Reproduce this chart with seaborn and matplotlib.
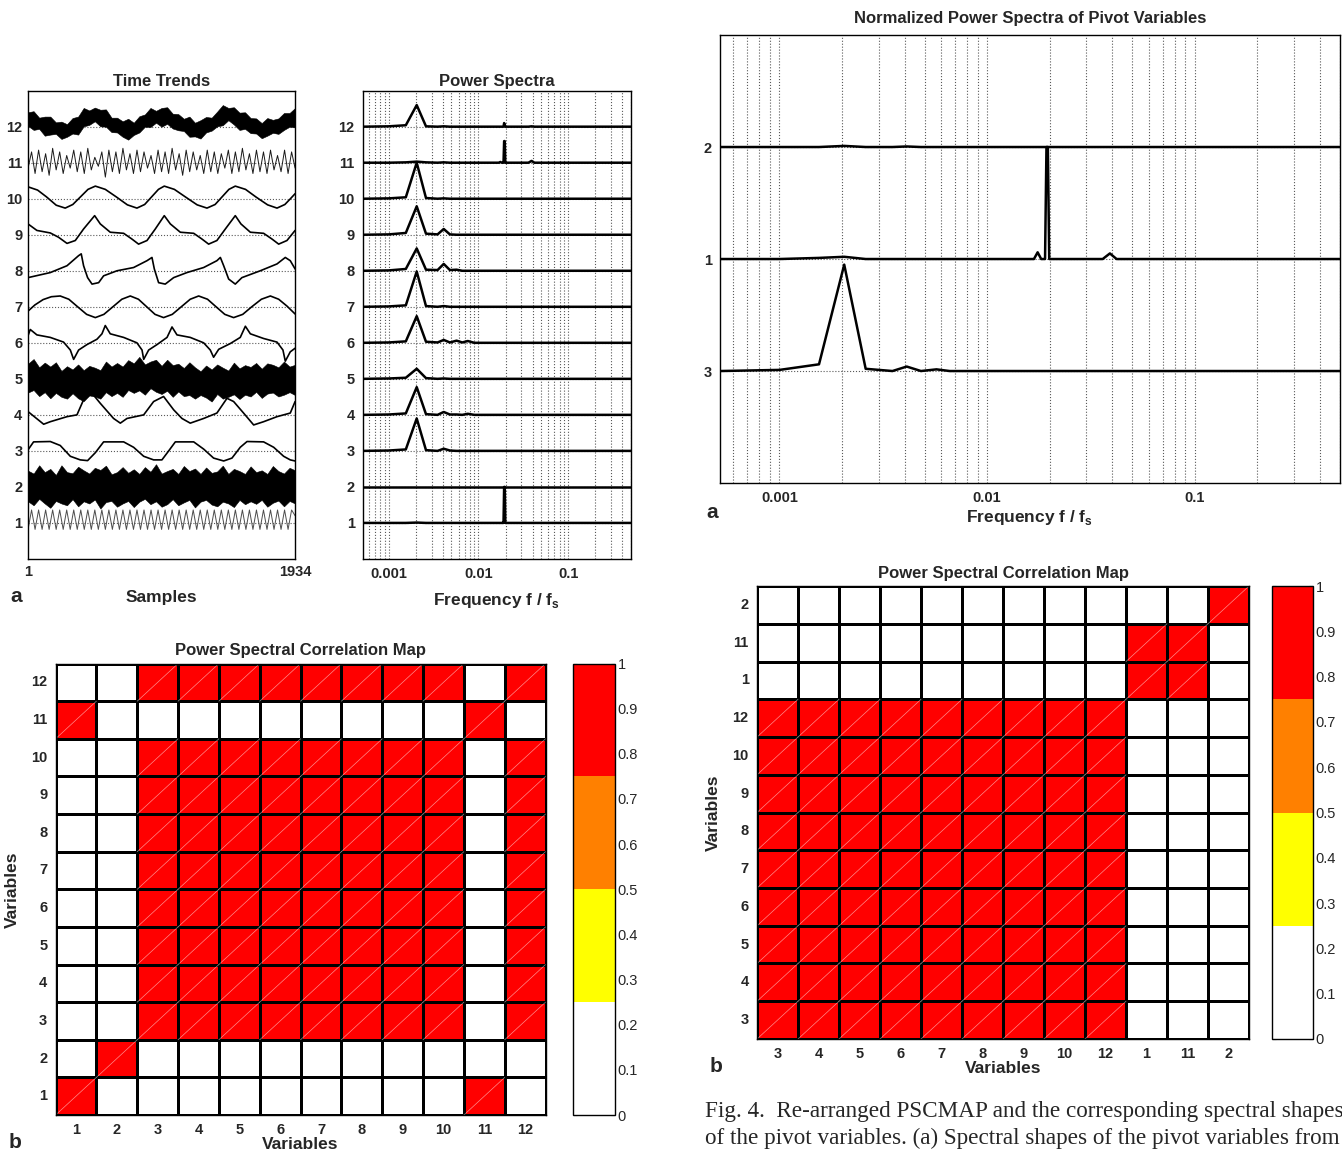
import numpy as np
import pandas as pd
import seaborn as sns
import matplotlib.pyplot as plt
from matplotlib.colors import ListedColormap
from matplotlib.ticker import LogLocator, NullFormatter

n_samples = 1934

# noisy traces: centre line and upper / lower spread, read every ~40 samples
trend12_center = [12.20, 12.15, 12.10, 12.04, 11.98, 11.94, 11.92, 11.93, 11.98, 12.08,
                  12.20, 12.28, 12.30, 12.28, 12.20, 12.10, 12.00, 11.94, 11.92, 11.95,
                  12.05, 12.15, 12.25, 12.30, 12.30, 12.25, 12.18, 12.10, 12.02, 11.97,
                  11.95, 11.95, 12.00, 12.10, 12.20, 12.30, 12.33, 12.30, 12.22, 12.12,
                  12.04, 11.98, 11.95, 11.95, 11.98, 12.05, 12.12, 12.18, 12.22]
noise12_up = [0.20, 0.28, 0.15, 0.24, 0.30, 0.18, 0.22, 0.14, 0.26, 0.20,
              0.32, 0.17, 0.23, 0.19, 0.28, 0.15, 0.25, 0.21, 0.30, 0.16,
              0.24, 0.19, 0.27, 0.14, 0.22, 0.29, 0.18, 0.25, 0.20, 0.31,
              0.16, 0.23, 0.27, 0.15, 0.22, 0.30, 0.19, 0.24, 0.17, 0.28,
              0.20, 0.25, 0.15, 0.29, 0.21, 0.18, 0.26, 0.20, 0.30]
noise12_dn = [0.18, 0.24, 0.16, 0.29, 0.20, 0.14, 0.26, 0.21, 0.17, 0.30,
              0.19, 0.23, 0.15, 0.27, 0.20, 0.25, 0.16, 0.22, 0.28, 0.18,
              0.21, 0.15, 0.26, 0.19, 0.30, 0.17, 0.23, 0.20, 0.14, 0.25,
              0.22, 0.28, 0.16, 0.21, 0.19, 0.26, 0.15, 0.24, 0.31, 0.18,
              0.22, 0.17, 0.27, 0.20, 0.15, 0.25, 0.21, 0.18, 0.24]
trend5_center = [5.00, 5.00, 4.99, 4.98, 4.96, 4.94, 4.92, 4.91, 4.90, 4.90,
                 4.90, 4.90, 4.91, 4.93, 4.95, 4.97, 4.99, 5.01, 5.03, 5.04,
                 5.05, 5.05, 5.05, 5.05, 5.04, 5.02, 5.00, 4.98, 4.96, 4.94,
                 4.92, 4.91, 4.90, 4.90, 4.90, 4.90, 4.90, 4.91, 4.92, 4.93,
                 4.94, 4.95, 4.96, 4.97, 4.97, 4.97, 4.97, 4.96, 4.95]
noise5_up = [0.42, 0.55, 0.33, 0.47, 0.38, 0.52, 0.30, 0.44, 0.36, 0.50,
             0.34, 0.46, 0.40, 0.31, 0.53, 0.37, 0.45, 0.33, 0.49, 0.39,
             0.56, 0.35, 0.43, 0.48, 0.32, 0.51, 0.38, 0.44, 0.34, 0.52,
             0.40, 0.30, 0.47, 0.36, 0.50, 0.41, 0.33, 0.54, 0.37, 0.45,
             0.39, 0.49, 0.32, 0.46, 0.42, 0.35, 0.51, 0.38, 0.44]
noise5_dn = [0.38, 0.31, 0.47, 0.35, 0.50, 0.33, 0.42, 0.46, 0.30, 0.44,
             0.52, 0.36, 0.40, 0.48, 0.32, 0.45, 0.38, 0.51, 0.34, 0.43,
             0.37, 0.49, 0.31, 0.41, 0.46, 0.35, 0.50, 0.33, 0.44, 0.39,
             0.47, 0.36, 0.42, 0.53, 0.32, 0.45, 0.40, 0.34, 0.48, 0.37,
             0.43, 0.31, 0.49, 0.38, 0.35, 0.46, 0.41, 0.33, 0.40]
trend2_center = [2.00, 2.01, 2.02, 2.01, 2.00, 1.99, 1.98, 1.99, 2.00, 2.01,
                 2.02, 2.02, 2.01, 2.00, 1.99, 1.98, 1.98, 1.99, 2.00, 2.01,
                 2.02, 2.02, 2.01, 2.00, 1.99, 1.98, 1.99, 2.00, 2.01, 2.02,
                 2.02, 2.01, 2.00, 1.99, 1.98, 1.98, 1.99, 2.00, 2.01, 2.02,
                 2.01, 2.00, 1.99, 1.98, 1.99, 2.00, 2.01, 2.01, 2.00]
noise2_up = [0.45, 0.36, 0.58, 0.40, 0.50, 0.34, 0.62, 0.42, 0.38, 0.55,
             0.44, 0.35, 0.52, 0.47, 0.60, 0.37, 0.43, 0.56, 0.39, 0.48,
             0.34, 0.53, 0.41, 0.63, 0.38, 0.46, 0.51, 0.36, 0.57, 0.42,
             0.49, 0.35, 0.54, 0.40, 0.45, 0.61, 0.37, 0.50, 0.43, 0.34,
             0.56, 0.41, 0.47, 0.38, 0.59, 0.44, 0.36, 0.52, 0.46]
noise2_dn = [0.40, 0.52, 0.35, 0.47, 0.58, 0.38, 0.44, 0.50, 0.34, 0.55,
             0.42, 0.48, 0.36, 0.60, 0.41, 0.37, 0.53, 0.45, 0.39, 0.57,
             0.43, 0.35, 0.49, 0.40, 0.54, 0.46, 0.33, 0.51, 0.44, 0.38,
             0.59, 0.42, 0.36, 0.48, 0.52, 0.39, 0.45, 0.56, 0.37, 0.50,
             0.41, 0.47, 0.35, 0.53, 0.43, 0.38, 0.55, 0.40, 0.46]

# fast oscillations (one value per half period)
trend11 = [10.85, 11.3, 10.7, 11.35, 10.75, 11.25, 10.65, 11.4, 10.8, 11.3,
           10.7, 11.2, 10.85, 11.35, 10.75, 11.3, 10.7, 11.4, 10.8, 11.15,
           10.9, 11.3, 10.6, 11.35, 10.75, 11.3, 10.7, 11.4, 10.8, 11.25,
           10.7, 11.35, 10.75, 11.3, 10.85, 11.2, 10.7, 11.35, 10.75, 11.3,
           10.7, 11.4, 10.8, 11.25, 10.65, 11.35, 10.75, 11.3, 10.8, 11.2,
           10.7, 11.35, 10.75, 11.3, 10.7, 11.25, 10.85, 11.35, 10.7, 11.3,
           10.75, 11.4, 10.8, 11.25, 10.7, 11.35, 10.75, 11.3, 10.7, 11.35,
           10.8, 11.2, 10.75, 11.35, 10.7, 11.3, 10.85]
trend1 = [0.82, 1.36, 0.82, 1.36, 0.82, 1.36, 0.82, 1.36, 0.82, 1.36,
          0.82, 1.36, 0.82, 1.36, 0.82, 1.36, 0.82, 1.36, 0.82, 1.36,
          0.82, 1.36, 0.82, 1.36, 0.82, 1.36, 0.82, 1.36, 0.82, 1.36,
          0.82, 1.36, 0.82, 1.36, 0.82, 1.36, 0.82, 1.36, 0.82, 1.36,
          0.82, 1.36, 0.82, 1.36, 0.82, 1.36, 0.82, 1.36, 0.82, 1.36,
          0.82, 1.36, 0.82, 1.36, 0.82, 1.36, 0.82, 1.36, 0.82, 1.36,
          0.82, 1.36, 0.82, 1.36, 0.82, 1.36, 0.82, 1.36, 0.82, 1.36,
          0.82, 1.36, 0.82, 1.36, 0.82, 1.36, 1.2]

# slower traces as (sample, value)
trend10 = [(1, 10.33), (70, 10.24), (135, 10.05), (205, 9.82), (270, 9.74), (325, 9.84),
           (380, 10.05), (435, 10.26), (488, 10.35), (560, 10.26), (640, 10.05), (720, 9.83),
           (789, 9.74), (845, 9.84), (895, 10.05), (945, 10.26), (987, 10.35), (1060, 10.26),
           (1140, 10.05), (1225, 9.83), (1296, 9.74), (1355, 9.84), (1405, 10.05), (1455, 10.26),
           (1501, 10.35), (1575, 10.26), (1650, 10.05), (1735, 9.83), (1803, 9.74), (1860, 9.84),
           (1900, 10.0), (1934, 10.14)]
trend9 = [(1, 9.30), (65, 9.12), (162, 9.05), (222, 8.93), (283, 8.76), (343, 8.84), (403, 9.16),
          (483, 9.53), (524, 9.30), (596, 9.07), (693, 9.04), (753, 8.88), (801, 8.74),
          (862, 8.84), (922, 9.16), (987, 9.53), (1031, 9.30), (1103, 9.07), (1200, 9.04),
          (1260, 8.88), (1308, 8.74), (1368, 8.84), (1429, 9.16), (1501, 9.53), (1542, 9.30),
          (1610, 9.07), (1706, 9.04), (1767, 8.88), (1815, 8.74), (1875, 8.84), (1934, 9.12)]
trend8 = [(1, 7.81), (162, 7.95), (283, 8.14), (367, 8.42), (386, 8.47), (403, 8.14), (432, 7.81),
          (464, 7.63), (512, 7.67), (548, 7.86), (645, 8.0), (765, 8.09), (862, 8.28),
          (898, 8.37), (915, 8.05), (946, 7.67), (994, 7.63), (1055, 7.81), (1151, 7.95),
          (1272, 8.09), (1368, 8.28), (1393, 8.37), (1417, 8.14), (1453, 7.77), (1501, 7.63),
          (1549, 7.81), (1682, 8.0), (1803, 8.19), (1863, 8.37), (1899, 8.28), (1934, 8.05)]
trend7 = [(1, 6.88), (50, 7.05), (110, 7.2), (170, 7.28), (234, 7.30), (296, 7.21), (360, 7.0),
          (425, 6.79), (488, 6.70), (550, 6.79), (615, 7.0), (680, 7.21), (741, 7.30),
          (800, 7.21), (860, 7.0), (920, 6.79), (982, 6.70), (1045, 6.79), (1110, 7.0),
          (1175, 7.21), (1236, 7.30), (1300, 7.21), (1362, 7.0), (1425, 6.79), (1489, 6.70),
          (1555, 6.79), (1620, 7.0), (1690, 7.21), (1755, 7.30), (1815, 7.21), (1875, 7.02),
          (1934, 6.80)]
trend6 = [(1, 6.2), (17, 6.37), (65, 6.22), (162, 6.15), (258, 6.02), (307, 5.8), (331, 5.54),
          (367, 5.8), (427, 5.95), (500, 6.1), (536, 6.25), (560, 6.48), (596, 6.25), (693, 6.15),
          (789, 6.0), (826, 5.8), (838, 5.54), (874, 5.8), (934, 5.95), (1007, 6.15),
          (1043, 6.44), (1079, 6.22), (1175, 6.15), (1272, 6.0), (1320, 5.8), (1344, 5.6),
          (1381, 5.82), (1465, 5.98), (1537, 6.15), (1574, 6.46), (1610, 6.25), (1706, 6.12),
          (1803, 6.02), (1846, 5.8), (1863, 5.49), (1899, 5.75), (1934, 5.85)]
trend4 = [(1, 4.09), (114, 3.74), (162, 3.81), (283, 3.95), (355, 4.0), (403, 4.42), (464, 4.6),
          (524, 4.32), (620, 3.9), (669, 3.77), (717, 3.9), (838, 4.0), (910, 4.37), (982, 4.51),
          (1055, 4.14), (1115, 3.9), (1175, 3.77), (1272, 3.9), (1368, 4.05), (1441, 4.46),
          (1489, 4.37), (1561, 4.05), (1634, 3.72), (1706, 3.81), (1803, 3.95), (1899, 4.05),
          (1934, 4.37)]
trend3 = [(1, 3.03), (41, 3.25), (162, 3.26), (234, 3.15), (307, 2.85), (379, 2.75), (432, 2.73),
          (488, 2.95), (548, 3.25), (693, 3.25), (765, 3.1), (838, 2.85), (910, 2.75),
          (970, 2.75), (1019, 3.0), (1067, 3.25), (1200, 3.25), (1272, 3.05), (1344, 2.8),
          (1417, 2.72), (1477, 2.8), (1537, 3.1), (1586, 3.26), (1706, 3.25), (1779, 3.1),
          (1851, 2.85), (1899, 2.75), (1934, 2.72)]

# ---------------- power spectra (height above each variable's baseline) ----------------
spec_freq = [0.000517, 0.001, 0.00155, 0.00205, 0.0026, 0.0035, 0.0041, 0.0048, 0.0057,
             0.0066, 0.0076, 0.009, 0.0168, 0.0175, 0.0182, 0.019, 0.0193, 0.0196,
             0.0199, 0.021, 0.036, 0.039, 0.042, 0.5]
spec_1 = [0, 0, 0, .01, 0, 0, 0, 0, 0, 0, 0, 0, 0, 0, 0, 0, 1.0, 1.0, 0, 0, 0, 0, 0, 0]
spec_2 = [0] * 24
spec_3 = [0, .01, .04, .90, .02, 0, .06, .01, 0, 0, 0, 0, 0, 0, 0, 0, 0, 0, 0, 0, 0, 0, 0, 0]
spec_4 = [0, .01, .04, .77, .02, 0, .08, .01, .01, 0, .03, 0, 0, 0, 0, 0, 0, 0, 0, 0, 0, 0, 0, 0]
spec_5 = [0, .01, .03, .28, .02, 0, .01, 0, 0, 0, 0, 0, 0, 0, 0, 0, 0, 0, 0, 0, 0, 0, 0, 0]
spec_6 = [0, .01, .04, .74, .03, .01, .08, .01, .06, .01, .05, 0, 0, 0, 0, 0, 0, 0, 0, 0, 0, 0, 0, 0]
spec_7 = [0, .01, .04, .98, .02, 0, .02, 0, 0, 0, 0, 0, 0, 0, 0, 0, 0, 0, 0, 0, 0, 0, 0, 0]
spec_8 = [0, .01, .05, .62, .03, .02, .19, .02, .03, 0, 0, 0, 0, 0, 0, 0, 0, 0, 0, 0, 0, 0, 0, 0]
spec_9 = [0, .01, .05, .79, .03, .01, .16, .01, 0, 0, 0, 0, 0, 0, 0, 0, 0, 0, 0, 0, 0, 0, 0, 0]
spec_10 = [0, .01, .04, 1.0, .02, 0, .01, 0, 0, 0, 0, 0, 0, 0, 0, 0, 0, 0, 0, 0, 0, 0, 0, 0]
spec_11 = [0, 0, .01, .03, .01, 0, .01, 0, 0, 0, 0, 0, 0, .02, 0, 0, .6, .6, 0, 0, 0, .05, 0, 0]
spec_12 = [0, .01, .04, .60, .01, 0, .01, 0, 0, 0, 0, 0, 0, 0, 0, 0, .1, .06, 0, 0, 0, .01, 0, 0]

# normalized spectra of pivot variables (bottom to top: 3, 1, 2)
pivot_labels = ['3', '1', '2']
pivot_3 = [0, .01, .06, .95, .02, 0, .04, 0, .015, 0, 0, 0, 0, 0, 0, 0, 0, 0, 0, 0, 0, 0, 0, 0]
pivot_1 = [0, 0, .01, .02, 0, 0, 0, 0, 0, 0, 0, 0, 0, .06, 0, 0, 1.0, 1.0, 0, 0, 0, .05, 0, 0]
pivot_2 = [0, 0, 0, .01, 0, 0, .005, 0, 0, 0, 0, 0, 0, 0, 0, 0, 0, 0, 0, 0, 0, 0, 0, 0]

# ---------------- power spectral correlation map (1 = red, >=0.75) ----------------
psc_vars = list(range(1, 13))
psc_rows = list(range(12, 0, -1))
psc_values = [
    [0, 0, 1, 1, 1, 1, 1, 1, 1, 1, 0, 1],  # 12
    [1, 0, 0, 0, 0, 0, 0, 0, 0, 0, 1, 0],  # 11
    [0, 0, 1, 1, 1, 1, 1, 1, 1, 1, 0, 1],  # 10
    [0, 0, 1, 1, 1, 1, 1, 1, 1, 1, 0, 1],  # 9
    [0, 0, 1, 1, 1, 1, 1, 1, 1, 1, 0, 1],  # 8
    [0, 0, 1, 1, 1, 1, 1, 1, 1, 1, 0, 1],  # 7
    [0, 0, 1, 1, 1, 1, 1, 1, 1, 1, 0, 1],  # 6
    [0, 0, 1, 1, 1, 1, 1, 1, 1, 1, 0, 1],  # 5
    [0, 0, 1, 1, 1, 1, 1, 1, 1, 1, 0, 1],  # 4
    [0, 0, 1, 1, 1, 1, 1, 1, 1, 1, 0, 1],  # 3
    [0, 1, 0, 0, 0, 0, 0, 0, 0, 0, 0, 0],  # 2
    [1, 0, 0, 0, 0, 0, 0, 0, 0, 0, 1, 0],  # 1
]
order_rows = [2, 11, 1, 12, 10, 9, 8, 7, 6, 5, 4, 3]
order_cols = [3, 4, 5, 6, 7, 8, 9, 10, 12, 1, 11, 2]
map_colors = ['#ffffff', '#ffff00', '#ff8000', '#ff0000']

caption = ['Fig. 4.  Re-arranged PSCMAP and the corresponding spectral shapes',
           'of the pivot variables. (a) Spectral shapes of the pivot variables from']

# ---------------- style ----------------
sns.set_style('white', {'axes.edgecolor': 'black', 'xtick.direction': 'in',
                        'ytick.direction': 'in'})
plt.rcParams['font.family'] = ['Liberation Sans', 'DejaVu Sans']
plt.rcParams['font.weight'] = 'bold'
plt.rcParams['axes.linewidth'] = 1.0
plt.rcParams['mathtext.fontset'] = 'custom'
plt.rcParams['mathtext.bf'] = 'Liberation Sans:bold'
plt.rcParams['mathtext.rm'] = 'Liberation Sans:bold'

TICK = 10.5
TITLE = 12
LABEL = 12.5
grid_kw = dict(ls=':', color='0.35', lw=0.8)

fig = plt.figure(figsize=(13.42, 11.52), dpi=100)

# ---- a) time trends ----
ax_t = fig.add_axes([0.0209, 0.5148, 0.199, 0.4065])
ax_t.set_axisbelow(True)
ax_t.grid(axis='y', **grid_kw)
for center, up, dn in [(trend12_center, noise12_up, noise12_dn),
                       (trend5_center, noise5_up, noise5_dn),
                       (trend2_center, noise2_up, noise2_dn)]:
    xs = np.linspace(1, n_samples, len(center))
    c = np.array(center)
    ax_t.fill_between(xs, c - np.array(dn), c + np.array(up), color='black', lw=0.4,
                      edgecolor='black')
for vals, col in ((trend11, '0.1'), (trend1, '0.3')):
    sns.lineplot(x=np.linspace(1, n_samples, len(vals)), y=vals, ax=ax_t,
                 color=col, lw=0.7, estimator=None, sort=False)
for pts in (trend10, trend9, trend8, trend7, trend6, trend4, trend3):
    xs, ys = zip(*pts)
    sns.lineplot(x=list(xs), y=list(ys), ax=ax_t, color='black', lw=1.2,
                 estimator=None, sort=False)
ax_t.set_xlim(1, n_samples)
ax_t.set_ylim(0, 13)
ax_t.set_yticks(range(1, 13))
ax_t.set_xticks([1, n_samples], labels=['1', str(n_samples)])
ax_t.tick_params(labelsize=TICK, length=3, pad=4)
ax_t.set_title('Time Trends', fontsize=TITLE, fontweight='bold', pad=3)
ax_t.set_xlabel('Samples', fontsize=LABEL, fontweight='bold', labelpad=8)
ax_t.set_ylabel('')

# ---- power spectra ----
spectra = [spec_1, spec_2, spec_3, spec_4, spec_5, spec_6,
           spec_7, spec_8, spec_9, spec_10, spec_11, spec_12]


def spectra_axes(ax):
    ax.set_xscale('log')
    ax.set_xlim(spec_freq[0], spec_freq[-1])
    ax.set_axisbelow(True)
    ax.xaxis.set_minor_locator(LogLocator(base=10, subs=np.arange(2, 10)))
    ax.xaxis.set_minor_formatter(NullFormatter())
    ax.set_xticks([0.001, 0.01, 0.1], labels=['0.001', '0.01', '0.1'])
    ax.grid(which='major', axis='both', **grid_kw)
    ax.grid(which='minor', axis='x', **grid_kw)
    ax.tick_params(which='both', labelsize=TICK, length=3, pad=6)
    ax.tick_params(which='minor', length=2)


ax_s = fig.add_axes([0.2705, 0.5148, 0.1997, 0.4065])
for level, vals in zip(psc_vars, spectra):
    sns.lineplot(x=spec_freq, y=np.array(vals) + level, ax=ax_s, color='black', lw=1.8,
                 estimator=None, sort=False)
spectra_axes(ax_s)
ax_s.set_ylim(0, 13)
ax_s.set_yticks(range(1, 13))
ax_s.set_title('Power Spectra', fontsize=TITLE, fontweight='bold', pad=3)
ax_s.set_xlabel(r'Frequency f / f$_\mathbf{s}$', fontsize=LABEL, fontweight='bold', labelpad=7)
ax_s.set_ylabel('')

# ---- normalized spectra of pivot variables ----
ax_p = fig.add_axes([0.5365, 0.5807, 0.462, 0.3889])
for level, vals in zip([1, 2, 3], [pivot_3, pivot_1, pivot_2]):
    sns.lineplot(x=spec_freq, y=np.array(vals) + level, ax=ax_p, color='black', lw=1.8,
                 estimator=None, sort=False)
spectra_axes(ax_p)
ax_p.set_ylim(0, 4)
ax_p.set_yticks([1, 2, 3], labels=pivot_labels)
ax_p.set_title('Normalized Power Spectra of Pivot Variables', fontsize=TITLE,
               fontweight='bold', pad=9)
ax_p.set_xlabel(r'Frequency f / f$_\mathbf{s}$', fontsize=LABEL, fontweight='bold', labelpad=2)
ax_p.set_ylabel('')

# ---- correlation maps ----
cmap = ListedColormap(map_colors)
left_df = pd.DataFrame(psc_values, index=psc_rows, columns=psc_vars)
right_df = left_df.loc[order_rows, order_cols]
cb_ticks = np.round(np.arange(0, 1.01, 0.1), 1)
cb_labels = ['0'] + [f'{t:.1f}' for t in cb_ticks[1:-1]] + ['1']


def corr_map(df, rect, cbar_rect):
    ax = fig.add_axes(rect)
    cax = fig.add_axes(cbar_rect)
    sns.heatmap(df, ax=ax, cmap=cmap, vmin=0, vmax=1, linewidths=0.8, linecolor='black',
                cbar_ax=cax)
    for i in range(df.shape[0]):
        for j in range(df.shape[1]):
            if df.iat[i, j] >= 0.75:
                ax.plot([j, j + 1], [i + 1, i], color='white', lw=0.5, alpha=0.55)
    for s in ax.spines.values():
        s.set_visible(True)
        s.set_linewidth(1)
    ax.tick_params(length=0, labelsize=TICK, pad=6)
    ax.set_yticklabels(df.index, rotation=0, fontweight='bold')
    ax.set_xticklabels(df.columns, rotation=0, fontweight='bold')
    ax.set_title('Power Spectral Correlation Map', fontsize=TITLE, fontweight='bold', pad=6)
    ax.set_xlabel('Variables', fontsize=LABEL, fontweight='bold', labelpad=0)
    ax.set_ylabel('Variables', fontsize=LABEL, fontweight='bold', labelpad=8)
    cb = ax.collections[0].colorbar
    cb.set_ticks(cb_ticks, labels=cb_labels)
    cb.outline.set_edgecolor('black')
    cb.outline.set_linewidth(1)
    cax.tick_params(axis='y', direction='in', left=True, right=True, length=3,
                    labelsize=TICK, pad=2)
    for t in cax.get_yticklabels():
        t.set_fontweight('normal')
    return ax


corr_map(left_df, [0.0414, 0.0321, 0.3651, 0.3919], [0.427, 0.0321, 0.0313, 0.3919])
corr_map(right_df, [0.5641, 0.0981, 0.3666, 0.3932], [0.9478, 0.0981, 0.0306, 0.3932])

# panel letters
for x, y, s in [(16, 596, 'a'), (712, 512, 'a'), (15, 1142, 'b'), (716, 1066, 'b')]:
    fig.text(x / 1342, 1 - y / 1152, s, fontsize=15, fontweight='bold', ha='center', va='center')

# caption
for k, line in enumerate(caption):
    fig.text(705 / 1342, 1 - (1112 + 26 * k) / 1152, line, family='Liberation Serif',
             fontsize=16.7, fontweight='normal', ha='left', va='center')

fig.savefig('out.png', dpi=100)
